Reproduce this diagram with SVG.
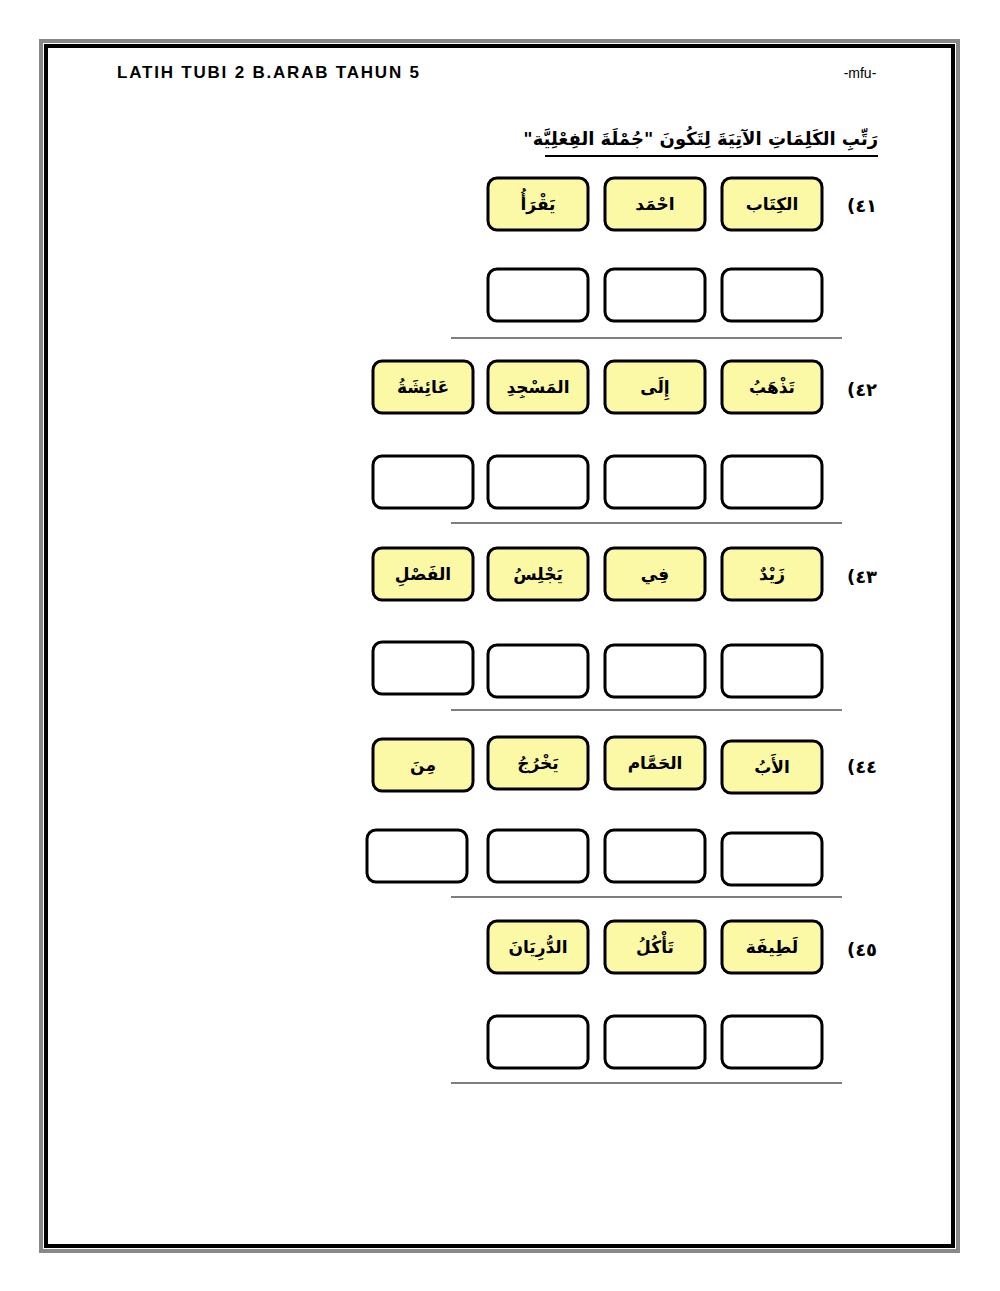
<svg xmlns="http://www.w3.org/2000/svg" width="1000" height="1291" viewBox="0 0 1000 1291">
<style>
.y{fill:#fbf8a6;stroke:#000;stroke-width:3}
.e{fill:#fff;stroke:#000;stroke-width:3}
.w{font-family:"DejaVu Sans",sans-serif;font-size:17px;font-weight:bold;text-anchor:middle}
.n{font-family:"DejaVu Sans",sans-serif;font-size:18px;font-weight:bold;text-anchor:middle}
.sep{stroke:#000;stroke-width:1.2}
</style>
<rect width="1000" height="1291" fill="#fff"/>
<rect x="41" y="41" width="917" height="1210" fill="none" stroke="#888" stroke-width="4"/>
<rect x="46" y="46" width="907" height="1200" fill="none" stroke="#000" stroke-width="4"/>
<text x="117" y="78" font-family="Liberation Sans,sans-serif" font-size="17" font-weight="bold" textLength="302">LATIH TUBI 2 B.ARAB TAHUN 5</text>
<text x="860" y="78" font-family="Liberation Sans,sans-serif" font-size="14" text-anchor="middle">-mfu-</text>
<text x="878" y="145" direction="rtl" font-family="DejaVu Sans,sans-serif" font-size="18" font-weight="bold">رَتِّبِ الكَلِمَاتِ الآتِيَةَ لِتَكُونَ "جُمْلَةَ الفِعْلِيَّة"</text>
<line x1="545" y1="156" x2="878" y2="156" stroke="#000" stroke-width="2"/>
<g id="connectors">
<line class="sep" x1="451" y1="338" x2="842" y2="338"/>
<line class="sep" x1="451" y1="523" x2="842" y2="523"/>
<line class="sep" x1="451" y1="710" x2="842" y2="710"/>
<line class="sep" x1="451" y1="897" x2="842" y2="897"/>
<line class="sep" x1="451" y1="1083" x2="842" y2="1083"/>
</g>
<g id="q41">
<text class="n" x="862" y="212">(٤١</text>
<rect class="y" x="722" y="178" width="100" height="52" rx="9"/><text class="w" x="772" y="210">الكِتَاب</text>
<rect class="y" x="605" y="178" width="100" height="52" rx="9"/><text class="w" x="655" y="210">احْمَد</text>
<rect class="y" x="488" y="178" width="100" height="52" rx="9"/><text class="w" x="538" y="210">يَقْرَأُ</text>
<rect class="e" x="722" y="269" width="100" height="52" rx="9"/>
<rect class="e" x="605" y="269" width="100" height="52" rx="9"/>
<rect class="e" x="488" y="269" width="100" height="52" rx="9"/>
</g>
<g id="q42">
<text class="n" x="862" y="396">(٤٢</text>
<rect class="y" x="722" y="361" width="100" height="52" rx="9"/><text class="w" x="772" y="393">تَذْهَبُ</text>
<rect class="y" x="605" y="361" width="100" height="52" rx="9"/><text class="w" x="655" y="393">إِلَى</text>
<rect class="y" x="488" y="361" width="100" height="52" rx="9"/><text class="w" x="538" y="393">المَسْجِدِ</text>
<rect class="y" x="373" y="361" width="100" height="52" rx="9"/><text class="w" x="423" y="393">عَائِشَةُ</text>
<rect class="e" x="722" y="456" width="100" height="52" rx="9"/>
<rect class="e" x="605" y="456" width="100" height="52" rx="9"/>
<rect class="e" x="488" y="456" width="100" height="52" rx="9"/>
<rect class="e" x="373" y="456" width="100" height="52" rx="9"/>
</g>
<g id="q43">
<text class="n" x="862" y="583">(٤٣</text>
<rect class="y" x="722" y="548" width="100" height="52" rx="9"/><text class="w" x="772" y="580">زَيْدٌ</text>
<rect class="y" x="605" y="548" width="100" height="52" rx="9"/><text class="w" x="655" y="580">فِي</text>
<rect class="y" x="488" y="548" width="100" height="52" rx="9"/><text class="w" x="538" y="580">يَجْلِسُ</text>
<rect class="y" x="373" y="548" width="100" height="52" rx="9"/><text class="w" x="423" y="580">الفَصْلِ</text>
<rect class="e" x="722" y="645" width="100" height="52" rx="9"/>
<rect class="e" x="605" y="645" width="100" height="52" rx="9"/>
<rect class="e" x="488" y="645" width="100" height="52" rx="9"/>
<rect class="e" x="373" y="642" width="100" height="52" rx="9"/>
</g>
<g id="q44">
<text class="n" x="862" y="773">(٤٤</text>
<rect class="y" x="722" y="741" width="100" height="52" rx="9"/><text class="w" x="772" y="773">الأَبُ</text>
<rect class="y" x="605" y="737" width="100" height="52" rx="9"/><text class="w" x="655" y="769">الحَمَّام</text>
<rect class="y" x="488" y="737" width="100" height="52" rx="9"/><text class="w" x="538" y="769">يَخْرُجُ</text>
<rect class="y" x="373" y="739" width="100" height="52" rx="9"/><text class="w" x="423" y="771">مِنَ</text>
<rect class="e" x="722" y="833" width="100" height="52" rx="9"/>
<rect class="e" x="605" y="830" width="100" height="52" rx="9"/>
<rect class="e" x="488" y="830" width="100" height="52" rx="9"/>
<rect class="e" x="367" y="830" width="100" height="52" rx="9"/>
</g>
<g id="q45">
<text class="n" x="862" y="956">(٤٥</text>
<rect class="y" x="722" y="921" width="100" height="52" rx="9"/><text class="w" x="772" y="953">لَطِيفَة</text>
<rect class="y" x="605" y="921" width="100" height="52" rx="9"/><text class="w" x="655" y="953">تَأْكُلُ</text>
<rect class="y" x="488" y="921" width="100" height="52" rx="9"/><text class="w" x="538" y="953">الدُّرِيَانَ</text>
<rect class="e" x="722" y="1016" width="100" height="52" rx="9"/>
<rect class="e" x="605" y="1016" width="100" height="52" rx="9"/>
<rect class="e" x="488" y="1016" width="100" height="52" rx="9"/>
</g>
</svg>
